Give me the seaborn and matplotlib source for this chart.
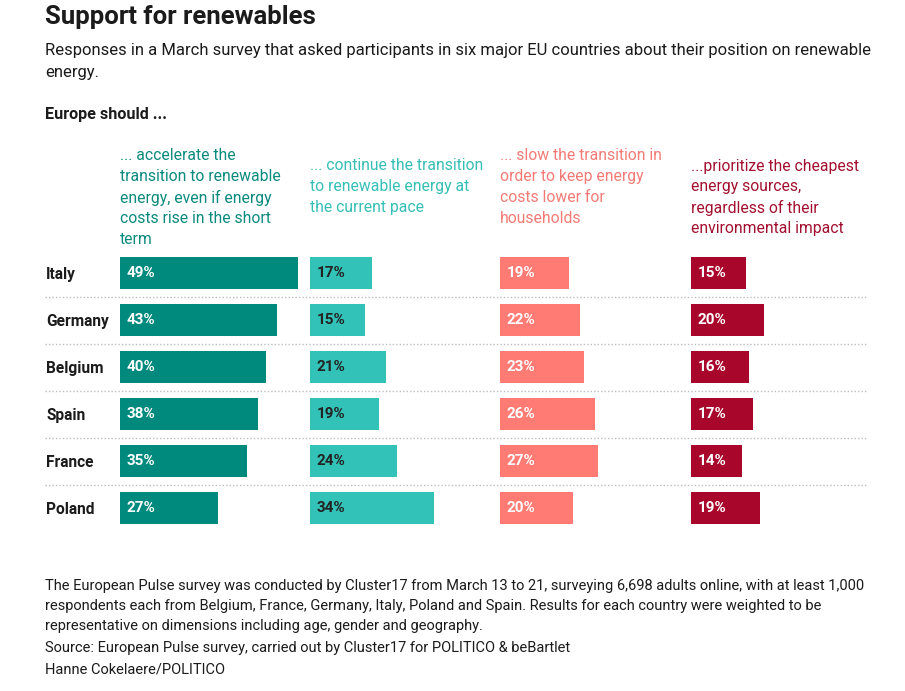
import matplotlib
matplotlib.use("Agg")
import matplotlib.pyplot as plt
import seaborn as sns
import pandas as pd

# ---- data ----
countries = ["Italy", "Germany", "Belgium", "Spain", "France", "Poland"]
accelerate = [49, 43, 40, 38, 35, 27]
continue_pace = [17, 15, 21, 19, 24, 34]
slow_down = [19, 22, 23, 26, 27, 20]
cheapest = [15, 20, 16, 17, 14, 19]

header_lines = [
    ["... accelerate the", "transition to renewable", "energy, even if energy",
     "costs rise in the short", "term"],
    ["... continue the transition", "to renewable energy at", "the current pace"],
    ["... slow the transition in", "order to keep energy", "costs lower for",
     "households"],
    ["...prioritize the cheapest", "energy sources,", "regardless of their",
     "environmental impact"],
]
title = "Support for renewables"
subtitle_lines = [
    "Responses in a March survey that asked participants in six major EU countries about their position on renewable",
    "energy.",
]
lead = "Europe should ..."
footer_lines = [
    "The European Pulse survey was conducted by Cluster17 from March 13 to 21, surveying 6,698 adults online, with at least 1,000",
    "respondents each from Belgium, France, Germany, Italy, Poland and Spain. Results for each country were weighted to be",
    "representative on dimensions including age, gender and geography.",
    "Source: European Pulse survey, carried out by Cluster17 for POLITICO & beBartlet",
    "Hanne Cokelaere/POLITICO",
]

series = [accelerate, continue_pace, slow_down, cheapest]
bar_colors = ["#00897d", "#32c2b7", "#ff7b74", "#a8062a"]
header_colors = ["#0b8a7e", "#35bfb5", "#f47b75", "#a3102f"]
value_colors = ["white", "#222222", "white", "white"]

# ---- layout ----
W, H = 905, 691
sns.set_theme(style="white")
plt.rcParams["font.family"] = ["Roboto", "DejaVu Sans"]

fig = plt.figure(figsize=(W / 100, H / 100), dpi=100)

def fx(px):
    return px / W

def fy(py):
    return 1 - py / H

row_top, row_bot = 249.5, 531.5
col_x = [120, 310, 500, 691]
col_w = 190
pct_px = 3.64
xmax = col_w / pct_px
n = len(countries)

# separators
ax_bg = fig.add_axes([fx(45), fy(row_bot), fx(868) - fx(45), (row_bot - row_top) / H])
ax_bg.set_ylim(n - 0.5, -0.5)
ax_bg.set_xlim(0, 1)
for i in range(n - 1):
    ax_bg.axhline(i + 0.5, color="#bdbdbd", lw=1, ls=(0, (1, 1.5)))
ax_bg.axis("off")

for k, (vals, c) in enumerate(zip(series, bar_colors)):
    df = pd.DataFrame({"country": countries, "value": vals})
    ax = fig.add_axes([fx(col_x[k]), fy(row_bot), col_w / W, (row_bot - row_top) / H])
    ax.patch.set_alpha(0)
    sns.barplot(data=df, x="value", y="country", orient="h", color=c,
                saturation=1, width=0.70, linewidth=0, edgecolor="none", ax=ax)
    ax.set_xlim(0, xmax)
    ax.set_ylim(n - 0.5, -0.5)
    for s in ax.spines.values():
        s.set_visible(False)
    ax.set_xlabel("")
    ax.set_ylabel("")
    ax.set_xticks([])
    if k == 0:
        ax.set_yticks(range(n))
        ax.set_yticklabels(countries, ha="left", fontweight="bold",
                           fontsize=11.2, color="#1b1b1b")
        ax.tick_params(axis="y", length=0, pad=(col_x[0] - 46) * 0.72)
    else:
        ax.set_yticks([])
    for i, v in enumerate(vals):
        ax.annotate(f"{v}%", xy=(0, i), xytext=(5, 0), textcoords="offset points",
                    ha="left", va="center", fontsize=11, fontweight="bold",
                    color=value_colors[k])

# headers
header_top = [156, 166, 156, 166]
for k, lines in enumerate(header_lines):
    for j, line in enumerate(lines):
        fig.text(fx(col_x[k]), fy(header_top[k] + j * 20.8), line,
                 ha="left", va="center", fontsize=11.3, color=header_colors[k])

# title & subtitle
fig.text(fx(45), fy(17), title, ha="left", va="center", fontsize=18.5,
         fontweight="bold", color="#1b1b1b")
for j, line in enumerate(subtitle_lines):
    fig.text(fx(45), fy(51 + j * 21), line, ha="left", va="center",
             fontsize=12, color="#1b1b1b")
fig.text(fx(45), fy(114), lead, ha="left", va="center", fontsize=11.6,
         fontweight="bold", color="#1b1b1b")

# footer
footer_y = [586, 606, 626, 648, 670]
for y, line in zip(footer_y, footer_lines):
    fig.text(fx(45), fy(y), line, ha="left", va="center", fontsize=10.5,
             color="#1b1b1b")

fig.savefig("out.png", dpi=100)
